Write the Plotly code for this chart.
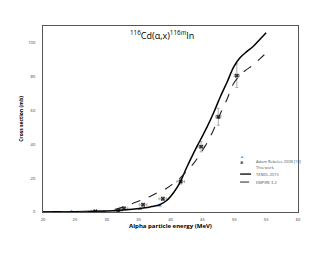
import plotly.graph_objects as go

tendl_e = [20, 25, 28, 30, 32, 34, 36, 37, 38.3, 39.4, 40.5, 41.5, 42.5, 43.6, 44.6, 45.7, 46.8, 47.8, 48.9, 49.9, 50.9, 52, 53, 54, 55]
tendl_xs = [0.1, 0.2, 0.4, 0.6, 1.0, 1.6, 2.5, 3.2, 4.3, 6.8, 11.5, 17.5, 26, 34.7, 42, 50, 59, 68, 77, 85.7, 91.2, 95, 98, 102, 106]

empire_e = [20, 25, 28, 30, 31.5, 33, 34.2, 35.5, 36.8, 38, 39.4, 40.5, 41.5, 42.5, 43.6, 44.6, 45.7, 46.8, 47.8, 48.9, 49.9, 51.4, 53, 54, 55]
empire_xs = [0.1, 0.2, 0.4, 0.8, 1.8, 3.5, 5.3, 7.2, 9.2, 11.5, 14, 17, 20, 24, 28.6, 34, 40.6, 49, 58, 67, 76, 82.7, 87, 90.5, 94]

work_e = [28.2, 31.8, 32.7, 35.7, 38.8, 41.6, 44.8, 47.5, 50.4]
work_xs = [0.4, 0.8, 2.2, 4.3, 7.8, 18, 38.6, 56.3, 80.6]
work_err = [0.3, 0.3, 0.5, 0.8, 1.0, 1.5, 3, 5, 7]
work_eerr = [0.6, 0.6, 0.6, 0.6, 0.6, 0.6, 0.5, 0.4, 0.4]

adam_e = [24.5, 28.4, 31.8, 35.2, 38.3]
adam_xs = [0.2, 0.2, 0.4, 1.8, 3.9]

legend_labels = ["Adam Rebeles 2008 [10]", "This work", "TENDL-2015", "EMPIRE 3.2"]

fig = go.Figure()
fig.add_trace(go.Scatter(x=adam_e, y=adam_xs, mode="markers", name=legend_labels[0],
                         marker=dict(symbol="triangle-up", size=4, color="#4a90d9")))
fig.add_trace(go.Scatter(x=work_e, y=work_xs, mode="markers", name=legend_labels[1],
                         marker=dict(symbol="x", size=4, color="#333333"),
                         error_y=dict(type="data", array=work_err, color="#999999", thickness=0.8, width=1.5),
                         error_x=dict(type="data", array=work_eerr, color="#999999", thickness=0.8, width=1.5)))
fig.add_trace(go.Scatter(x=tendl_e, y=tendl_xs, mode="lines", name=legend_labels[2],
                         line=dict(color="black", width=1.5, shape="spline")))
fig.add_trace(go.Scatter(x=empire_e, y=empire_xs, mode="lines", name=legend_labels[3],
                         line=dict(color="#222222", width=1.1, dash="dash", shape="spline")))

# manual legend (paper coords)
lx0, lx1, ltx = 0.773, 0.816, 0.827
ly = [0.273, 0.241, 0.204, 0.161]
annotations = [dict(text="<sup>116</sup>Cd(α,x)<sup>116<i>m</i></sup>In", x=0.467, y=0.95,
                    xref="paper", yref="paper", xanchor="center", yanchor="middle",
                    showarrow=False, font=dict(size=9, color="black"))]
for lab, yy in zip(legend_labels, ly):
    annotations.append(dict(text=lab, x=ltx, y=yy, xref="paper", yref="paper", xanchor="left",
                            yanchor="middle", showarrow=False, font=dict(size=4, color="#445566")))
annotations.append(dict(text="▲", x=(lx0 + lx1) / 2, y=ly[0], xref="paper", yref="paper",
                        showarrow=False, font=dict(size=4, color="#4a90d9")))
annotations.append(dict(text="✖", x=(lx0 + lx1) / 2, y=ly[1], xref="paper", yref="paper",
                        showarrow=False, font=dict(size=4, color="#333333")))
shapes = [
    dict(type="line", xref="paper", yref="paper", x0=lx0, x1=lx1, y0=ly[2], y1=ly[2],
         line=dict(color="black", width=1.3)),
    dict(type="line", xref="paper", yref="paper", x0=lx0, x1=lx1, y0=ly[3], y1=ly[3],
         line=dict(color="#222222", width=1.0, dash="dash")),
]

fig.update_layout(
    width=322, height=247,
    margin=dict(l=35, r=32, t=18, b=43),
    paper_bgcolor="white", plot_bgcolor="white",
    font=dict(family="Open Sans", color="#333333"),
    showlegend=False,
    annotations=annotations,
    shapes=shapes,
)
fig.update_xaxes(range=[20, 60], dtick=5, showgrid=False, zeroline=False,
                 showline=True, linecolor="#555555", linewidth=1, mirror=True,
                 ticks="outside", ticklen=3, tickcolor="white", tickfont=dict(size=4),
                 title=dict(text="<b>Alpha particle energy (MeV)</b>", font=dict(size=6, color="black"), standoff=1))
fig.update_yaxes(range=[0, 110], tickvals=[0, 20, 40, 60, 80, 100], showgrid=False, zeroline=False,
                 showline=True, linecolor="#555555", linewidth=1, mirror=True,
                 ticks="outside", ticklen=6, tickcolor="white", tickfont=dict(size=4),
                 title=dict(text="<b>Cross section (mb)</b>", font=dict(size=5, color="black"), standoff=4))

fig.write_html("out.html")
